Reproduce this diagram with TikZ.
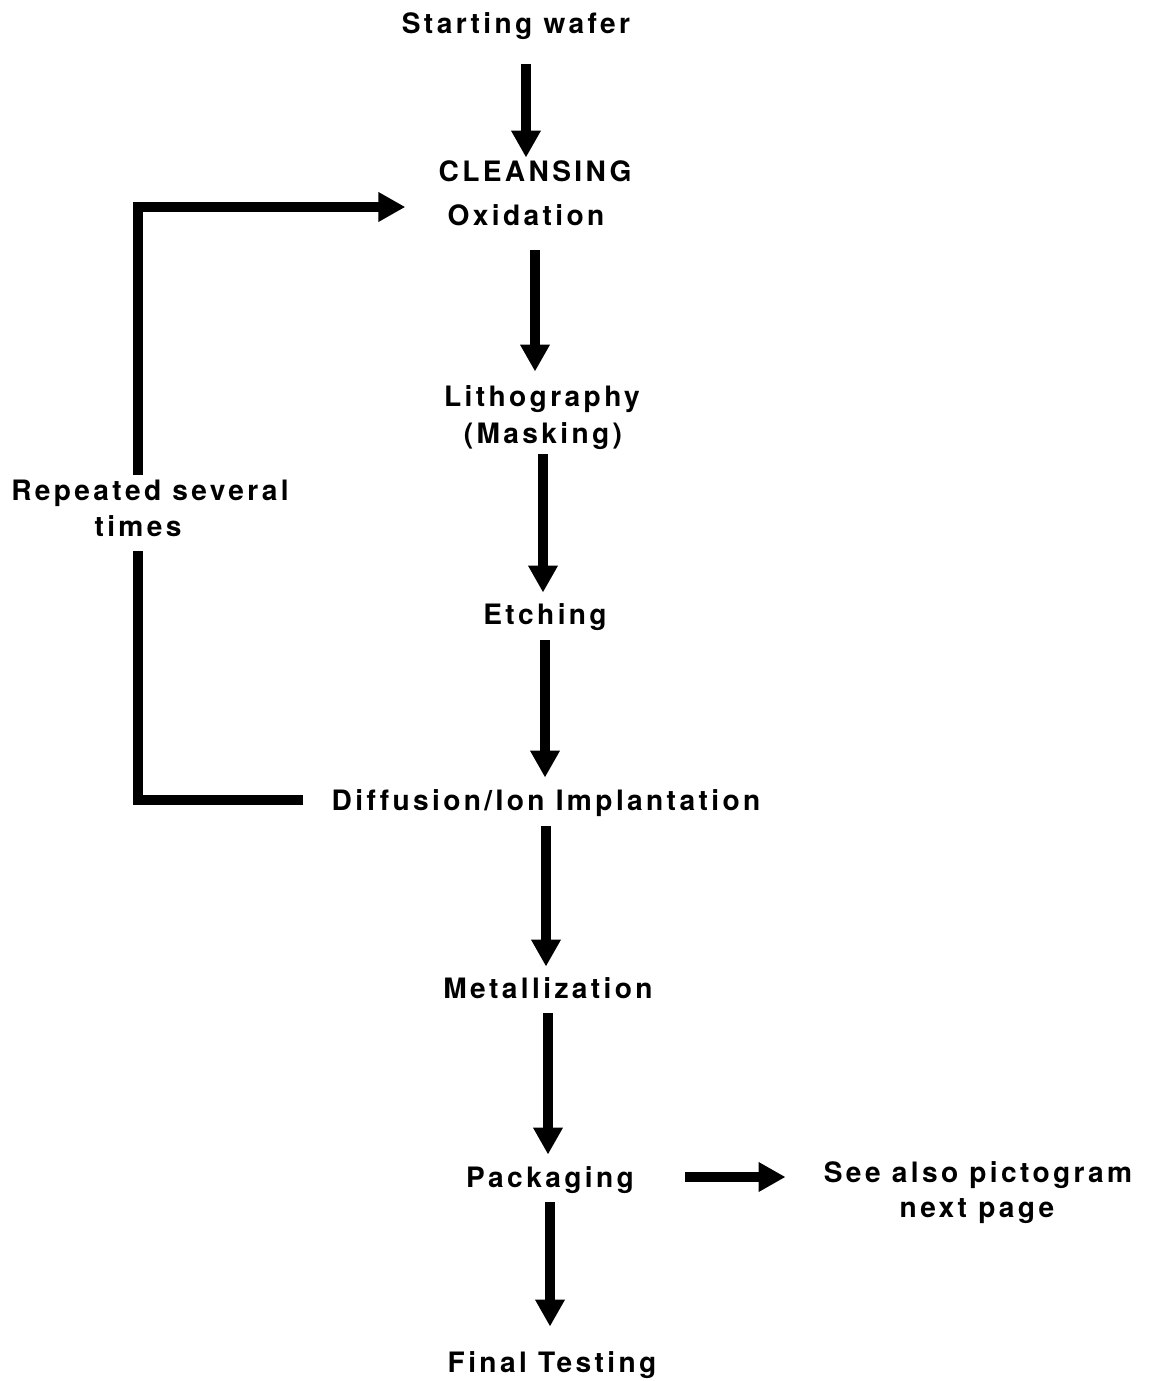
\documentclass[tikz,border=0pt]{standalone}
\usepackage{fontspec}
\setmainfont{TeX Gyre Heros}[LetterSpace=12, Ligatures=NoCommon]
\usepackage{tikz}
\usetikzlibrary{arrows.meta,positioning}

\tikzset{
  step label/.style={font=\bfseries\fontsize{16}{19}\selectfont, inner sep=0pt,
    text height=11.5pt, text depth=0pt},
  flow/.style={line width=0.2cm, -{Triangle[width=0.56cm,length=0.54cm]}},
  loopline/.style={line width=0.2cm, line join=miter}
}

\begin{document}
\begin{tikzpicture}[x=0.02cm, y=-0.02cm]
   \useasboundingbox (0,0) rectangle (1156,1381);

   %process steps
   \node[step label] (wafer) at (516,23) {Starting wafer};
   \node[step label] (cleans) at (535,171) {CLEANSING};
   \node[step label] (ox) at (526,215) {Oxidation};
   \node[step label] (litho) at (542,396) {Lithography};
   \node[step label] (mask) at (543,433) {(Masking)};
   \node[step label] (etch) at (545,614) {Etching};
   \node[step label] (diff) at (546,800) {Diffusion/Ion Implantation};
   \node[step label] (metal) at (548,988) {Metallization};
   \node[step label] (pack) at (550,1177) {Packaging};
   \node[step label] (final) at (552,1362) {Final Testing};

   %side notes
   \node[step label] (rep) at (150,490) {Repeated several};
   \node[step label] (times) at (138,526) {times};
   \node[step label] (see) at (978,1172) {See also pictogram};
   \node[step label] (next) at (977,1207) {next page};

  \path[flow]
    (ox |- wafer.south) edge[shorten <=0.62cm, shorten >=0.06cm] (ox |- cleans.north)
    (cleans |- ox.south) edge[shorten <=0.5cm, shorten >=0.28cm] (cleans |- litho.north)
    (mask.south) edge[shorten <=0.22cm, shorten >=0.22cm] (mask.south |- etch.north)
    (etch.south) edge[shorten <=0.32cm, shorten >=0.24cm] (etch.south |- diff.north)
    (diff.south) edge[shorten <=0.32cm, shorten >=0.22cm] (diff.south |- metal.north)
    (metal.south) edge[shorten <=0.3cm, shorten >=0.24cm] (metal.south |- pack.north)
    (pack.south) edge[shorten <=0.3cm, shorten >=0.5cm] (pack.south |- final.north)
    %to the pictogram
    (pack.east) edge[shorten <=1.02cm, shorten >=0.76cm] (pack.east -| see.west);

  %repeat loop
  \draw[loopline, shorten <=0.56cm, shorten >=0.3cm] (diff.west) -| (times.south);
  \draw[loopline, flow, shorten <=0.1cm, shorten >=0.84cm]
    (rep.north -| times) |- ([yshift=0.16cm]ox.west);
\end{tikzpicture}
\end{document}
